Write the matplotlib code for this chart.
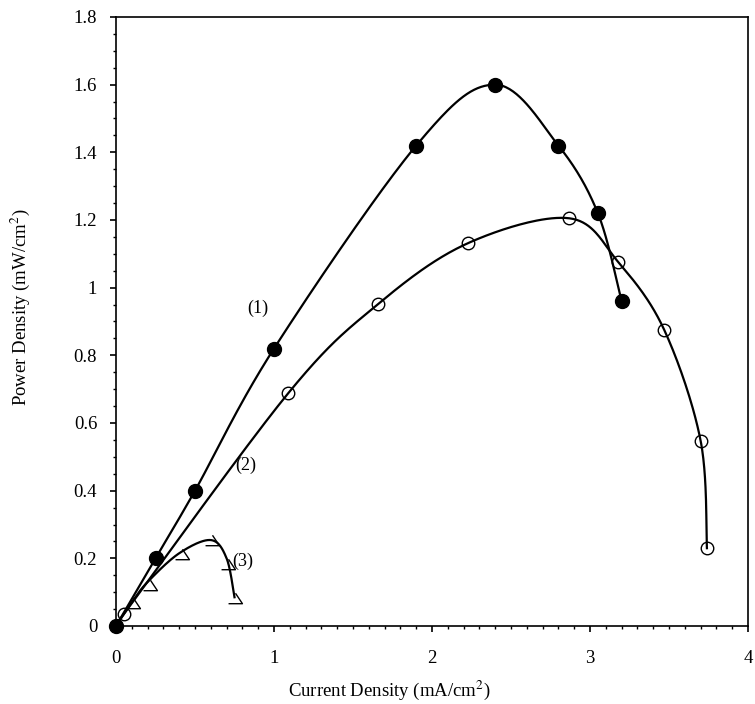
import matplotlib
matplotlib.use("Agg")
import matplotlib.pyplot as plt
import numpy as np
from matplotlib.path import Path
from matplotlib.ticker import MultipleLocator, FuncFormatter

plt.rcParams['font.family'] = ['Liberation Serif', 'DejaVu Serif']
plt.rcParams['mathtext.fontset'] = 'stix'

# --- data ---
x1 = [0, 0.25, 0.5, 1.0, 1.9, 2.4, 2.8, 3.05, 3.2]
y1 = [0, 0.20, 0.40, 0.82, 1.42, 1.60, 1.42, 1.22, 0.96]

x2 = [0, 0.05, 1.09, 1.66, 2.23, 2.87, 3.18, 3.47, 3.70, 3.74]
y2 = [0, 0.035, 0.688, 0.952, 1.132, 1.205, 1.075, 0.875, 0.548, 0.23]

x3 = [0.11, 0.215, 0.42, 0.61, 0.71, 0.753]
y3 = [0.068, 0.121, 0.213, 0.254, 0.183, 0.083]
# fitted line drawn for series 3
x3_fit = [0, 0.10, 0.20, 0.40, 0.60, 0.70, 0.75]
y3_fit = [0, 0.07, 0.13, 0.215, 0.254, 0.20, 0.085]

labels = ["(1)", "(2)", "(3)"]
label_pos = [(0.9, 0.94), (0.82, 0.475), (0.80, 0.19)]


def smooth(xs, ys, n=40, sx=158.0, sy=338.3):
    # Catmull-Rom style bezier, like a spreadsheet "smoothed line"
    P = np.column_stack([np.asarray(xs) * sx, np.asarray(ys) * sy])
    pad = np.vstack([P[0], P, P[-1]])
    t = np.linspace(0, 1, n)[:, None]
    segs = []
    for i in range(len(P) - 1):
        p0, p1, p2, p3 = pad[i], pad[i + 1], pad[i + 2], pad[i + 3]
        c1 = p1 + (p2 - p0) / 6
        c2 = p2 - (p3 - p1) / 6
        segs.append((1 - t) ** 3 * p1 + 3 * (1 - t) ** 2 * t * c1
                    + 3 * (1 - t) * t ** 2 * c2 + t ** 3 * p2)
    pts = np.vstack(segs)
    return pts[:, 0] / sx, pts[:, 1] / sy


# open triangle marker with the left edge missing
tri = Path([(0, 0.75), (1, -0.75), (-1, -0.75)], [Path.MOVETO, Path.LINETO, Path.LINETO])

fig = plt.figure(figsize=(7.55, 7.04), dpi=100)
ax = fig.add_axes([116 / 755, 1 - 626 / 704, (748 - 116) / 755, (626 - 17) / 704])

for xs, ys in [(x1, y1), (x2, y2), (x3_fit, y3_fit)]:
    sx_, sy_ = smooth(xs, ys)
    ax.plot(sx_, sy_, color='black', lw=1.6, zorder=2)

ax.plot(x1, y1, 'o', ms=10, mfc='black', mec='black', zorder=3, clip_on=False)
ax.plot(x2[1:], y2[1:], 'o', ms=9, mfc='none', mec='black', mew=1.0, zorder=3, clip_on=False)
ax.plot(x3, y3, ls='none', marker=tri, ms=10, mfc='none', mec='black', mew=1.0, zorder=3)

for lab, (lx, ly) in zip(labels, label_pos):
    ax.text(lx, ly, lab, fontsize=13, ha='center', va='center')

ax.set_xlim(0, 4)
ax.set_ylim(0, 1.8)
ax.xaxis.set_major_locator(MultipleLocator(1))
ax.xaxis.set_minor_locator(MultipleLocator(0.1))
ax.yaxis.set_major_locator(MultipleLocator(0.2))
ax.yaxis.set_minor_locator(MultipleLocator(0.05))
fmt = FuncFormatter(lambda v, p: f"{v:g}")
ax.xaxis.set_major_formatter(fmt)
ax.yaxis.set_major_formatter(fmt)
ax.tick_params(which='major', direction='out', length=4.5, width=1.2, labelsize=13.5)
ax.tick_params(axis='x', which='major', pad=13)
ax.tick_params(axis='y', which='major', pad=9)
ax.tick_params(which='minor', direction='out', length=2.5, width=1.0)
for s in ax.spines.values():
    s.set_linewidth(1.2)

fig.text(389 / 755, 1 - 690 / 704, "Current Density (mA/cm$^2$)", fontsize=13.5,
         ha='center', va='center')
fig.text(20 / 755, 1 - 307 / 704, "Power Density (mW/cm$^2$)", fontsize=13.5,
         ha='center', va='center', rotation=90)

fig.savefig("out.png", dpi=100)
